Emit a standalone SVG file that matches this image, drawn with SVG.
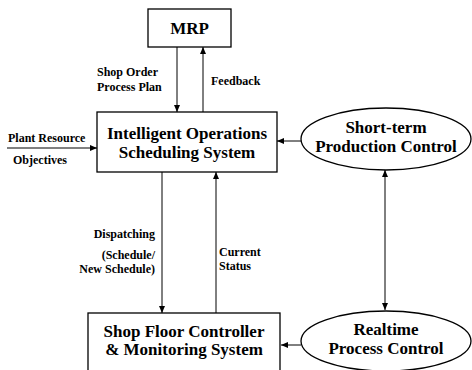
<svg xmlns="http://www.w3.org/2000/svg" width="472" height="370" viewBox="0 0 472 370">
<style>
.box{fill:#fff;stroke:#000;stroke-width:1.3}
.ln{fill:none;stroke:#000;stroke-width:1}
.t{font-family:'Liberation Serif','DejaVu Serif',serif;font-weight:bold;fill:#000;text-anchor:middle}
.big{font-size:17px}
.sm{font-size:12px}
.l{text-anchor:start}
.r{text-anchor:end}
</style>
<defs>
<marker id="ah" markerWidth="8" markerHeight="8" refX="7" refY="3" orient="auto" markerUnits="userSpaceOnUse">
<path d="M0,0 L7,3 L0,6 z" fill="#000"/>
</marker>
<marker id="as" markerWidth="8" markerHeight="8" refX="0" refY="3" orient="auto" markerUnits="userSpaceOnUse">
<path d="M7,0 L0,3 L7,6 z" fill="#000"/>
</marker>
</defs>
<rect width="472" height="370" fill="#fff"/>
<g id="connectors">
<line class="ln" x1="177" y1="47" x2="177" y2="112" marker-end="url(#ah)"/>
<line class="ln" x1="203" y1="112" x2="203" y2="47" marker-end="url(#ah)"/>
<line class="ln" x1="7" y1="148" x2="97" y2="148" marker-end="url(#ah)"/>
<line class="ln" x1="301" y1="141" x2="277" y2="141" marker-end="url(#ah)"/>
<line class="ln" x1="162" y1="172" x2="162" y2="313" marker-end="url(#ah)"/>
<line class="ln" x1="216" y1="313" x2="216" y2="172" marker-end="url(#ah)"/>
<line class="ln" x1="385" y1="170" x2="385" y2="310" marker-start="url(#as)" marker-end="url(#ah)"/>
<line class="ln" x1="301" y1="345" x2="281" y2="345" marker-end="url(#ah)"/>
</g>
<g id="labels">
<text class="t sm l" x="97" y="76">Shop Order</text>
<text class="t sm l" x="97" y="91">Process Plan</text>
<text class="t sm l" x="211" y="85">Feedback</text>
<text class="t sm l" x="8" y="142">Plant Resource</text>
<text class="t sm l" x="13" y="164">Objectives</text>
<text class="t sm r" x="155" y="238">Dispatching</text>
<text class="t sm r" x="155" y="259">(Schedule/</text>
<text class="t sm r" x="155" y="273">New Schedule)</text>
<text class="t sm l" x="219" y="256" font-size="11.5">Current</text>
<text class="t sm l" x="219" y="270" font-size="11.5">Status</text>
</g>
<g id="mrp">
<rect class="box" x="148" y="9" width="83" height="38"/>
<text class="t big" x="189.5" y="34">MRP</text>
</g>
<g id="ioss">
<rect class="box" x="97" y="112" width="180" height="60"/>
<text class="t big" x="187" y="139" font-size="18">Intelligent Operations</text>
<text class="t big" x="187" y="158" font-size="18">Scheduling System</text>
</g>
<g id="shortterm">
<ellipse class="box" cx="386" cy="139" rx="85" ry="31"/>
<text class="t big" x="386" y="133">Short-term</text>
<text class="t big" x="386" y="152">Production Control</text>
</g>
<g id="shopfloor">
<rect class="box" x="88" y="313" width="192" height="70"/>
<text class="t big" x="184" y="337">Shop Floor Controller</text>
<text class="t big" x="184" y="355">&amp; Monitoring System</text>
</g>
<g id="realtime">
<ellipse class="box" cx="386" cy="341" rx="85" ry="30"/>
<text class="t big" x="386" y="335">Realtime</text>
<text class="t big" x="386" y="354">Process Control</text>
</g>
</svg>
